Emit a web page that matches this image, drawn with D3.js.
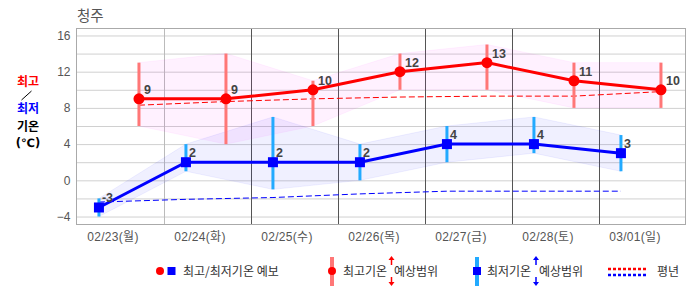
<!DOCTYPE html>
<html>
<head>
<meta charset="utf-8">
<script src="https://cdn.jsdelivr.net/npm/d3@7"></script>
<style>
  body { margin: 0; background: #fff; }
  text { font-family: "Liberation Sans", "Noto Sans CJK KR", sans-serif; }
  .kr { font-family: "Noto Sans CJK KR", sans-serif; }
</style>
</head>
<body>
<script>
// ==================== Data ============================
const days = ['02/23(월)', '02/24(화)', '02/25(수)', '02/26(목)', '02/27(금)', '02/28(토)', '03/01(일)'];
const maxTemp = [9, 9, 10, 12, 13, 11, 10];
const maxLow  = [6, 4, 6, 10, 10, 8, 8];
const maxHigh = [13, 14, 11, 14, 15, 13, 13];
const minTemp = [-3, 2, 2, 2, 4, 4, 3];
const minLow  = [-4, 1, -1, 0, 2, 3, 1];
const minHigh = [-2, 4, 7, 4, 6, 7, 5];
const normalMax = [8.3, 8.7, 9.0, 9.2, 9.3, 9.3, 9.8];
const normalMin = [-2.4, -2.1, -1.9, -1.5, -1.2, -1.2, -1.2];
const yTicks = [-4, 0, 4, 8, 12, 16];
const yGrid = [-4, -2, 0, 2, 4, 6, 8, 10, 12, 14, 16];

// ==================== Set up ============================
const W = 686, H = 295;
const plotL = 76.5, plotR = 685.5, plotT = 28.5, plotB = 224.5;

const x = d3.scaleBand().domain(days).range([plotL, plotR]);
const y = d3.scaleLinear().domain([-4.88, 16.77]).range([plotB, plotT]);

// position inside each day column: min temp early, max temp later
const xMax = (i) => x(days[i]) + x.step() * 0.718;
const xMin = (i) => x(days[i]) + x.step() * 0.258;

const svg = d3.select('body').append('svg')
    .attr('width', W)
    .attr('height', H);

// Title
svg.append('text')
    .attr('class', 'kr')
    .attr('x', 77).attr('y', 21)
    .style('font-size', '14.5px')
    .style('fill', '#555')
    .text('청주');

// Horizontal gridlines
svg.append('g')
    .attr('transform', `translate(${plotL},0)`)
    .call(d3.axisLeft(y).tickValues(yGrid).tickSize(-(plotR - plotL)).tickFormat(''))
    .call(g => g.select('.domain').remove())
    .selectAll('line')
      .attr('stroke', '#d0d0d0');

// Vertical gridlines (column separators)
svg.append('g')
    .selectAll('line')
    .data(days.slice(1))
    .enter()
  .append('line')
    .attr('x1', d => Math.round(x(d)) + 0.5)
    .attr('x2', d => Math.round(x(d)) + 0.5)
    .attr('y1', plotT).attr('y2', plotB)
    .attr('stroke', (d, i) => i === 0 ? '#bbb' : '#555');

// Plot border
svg.append('rect')
    .attr('x', plotL).attr('y', plotT)
    .attr('width', plotR - plotL).attr('height', plotB - plotT)
    .attr('fill', 'none')
    .attr('stroke', '#aaa');

// Y axis labels
svg.append('g')
    .attr('transform', `translate(${plotL},0)`)
    .call(d3.axisLeft(y).tickValues(yTicks).tickSize(0).tickPadding(6))
    .call(g => g.select('.domain').remove())
    .selectAll('text')
      .style('font-size', '12px')
      .style('fill', '#555');

// X axis labels
svg.append('g')
    .attr('transform', `translate(0,${plotB})`)
    .call(d3.axisBottom(x).tickSize(0).tickPadding(8))
    .call(g => g.select('.domain').remove())
    .selectAll('text')
      .attr('dx', -7)
      .style('font-size', '12px')
      .style('letter-spacing', '0.3px')
      .style('fill', '#555');

// Left axis title
const ttl = svg.append('g').style('font-size', '12px').style('font-weight', 'bold').attr('text-anchor', 'middle');
ttl.append('text').attr('class', 'kr').attr('x', 28).attr('y', 86).style('fill', '#ff0000').text('최고');
ttl.append('line').attr('x1', 21.5).attr('y1', 100).attr('x2', 31.5).attr('y2', 91).attr('stroke', '#000');
ttl.append('text').attr('class', 'kr').attr('x', 28).attr('y', 112.5).style('fill', '#0000ff').text('최저');
ttl.append('text').attr('class', 'kr').attr('x', 28).attr('y', 130.5).style('fill', '#000').text('기온');
ttl.append('text').attr('x', 28).attr('y', 147).style('fill', '#000')
    .style('font-family', '"DejaVu Sans", sans-serif').style('font-size', '11.5px').text('(℃)');

// ==================== Bands ============================
const idx = d3.range(days.length);

svg.append('path')
    .datum(idx)
    .attr('fill', '#ff00ff').attr('fill-opacity', 0.055)
    .attr('stroke', '#ff00ff').attr('stroke-opacity', 0.05)
    .attr('d', d3.area().x(i => xMax(i)).y0(i => y(maxLow[i])).y1(i => y(maxHigh[i])));

svg.append('path')
    .datum(idx)
    .attr('fill', '#0000ff').attr('fill-opacity', 0.06)
    .attr('stroke', '#0000ff').attr('stroke-opacity', 0.06)
    .attr('d', d3.area().x(i => xMin(i)).y0(i => y(minLow[i])).y1(i => y(minHigh[i])));

// Normal lines
svg.append('path')
    .datum(idx)
    .attr('fill', 'none').attr('stroke', '#ff0000').attr('stroke-width', 1)
    .style('stroke-dasharray', '6,3')
    .attr('d', d3.line().x(i => xMax(i)).y(i => y(normalMax[i])));

svg.append('path')
    .datum(idx)
    .attr('fill', 'none').attr('stroke', '#0000ff').attr('stroke-width', 1)
    .style('stroke-dasharray', '6,3')
    .attr('d', d3.line().x(i => xMin(i)).y(i => y(normalMin[i])));

// Range bars
svg.append('g').selectAll('line').data(idx).enter().append('line')
    .attr('x1', i => xMax(i)).attr('x2', i => xMax(i))
    .attr('y1', i => y(maxLow[i])).attr('y2', i => y(maxHigh[i]))
    .attr('stroke', '#ff7777').attr('stroke-width', 3);

svg.append('g').selectAll('line').data(idx).enter().append('line')
    .attr('x1', i => xMin(i)).attr('x2', i => xMin(i))
    .attr('y1', i => y(minLow[i])).attr('y2', i => y(minHigh[i]))
    .attr('stroke', '#22aaff').attr('stroke-width', 3);

// Main lines
svg.append('path')
    .datum(idx)
    .attr('fill', 'none').attr('stroke', '#ff0000').attr('stroke-width', 3)
    .attr('d', d3.line().x(i => xMax(i)).y(i => y(maxTemp[i])));

svg.append('path')
    .datum(idx)
    .attr('fill', 'none').attr('stroke', '#0000ff').attr('stroke-width', 3)
    .attr('d', d3.line().x(i => xMin(i)).y(i => y(minTemp[i])));

// Points
svg.append('g').selectAll('circle').data(idx).enter().append('circle')
    .attr('cx', i => xMax(i)).attr('cy', i => y(maxTemp[i]))
    .attr('r', 5.5).attr('fill', '#ff0000');

svg.append('g').selectAll('rect').data(idx).enter().append('rect')
    .attr('x', i => xMin(i) - 5).attr('y', i => y(minTemp[i]) - 5)
    .attr('width', 10).attr('height', 10).attr('fill', '#0000ff');

// Value labels
svg.append('g').selectAll('text').data(idx).enter().append('text')
    .attr('x', i => xMax(i) + 5).attr('y', i => y(maxTemp[i]) - 5)
    .style('font-size', '12.5px').style('font-weight', 'bold').style('fill', '#444')
    .text(i => maxTemp[i]);

svg.append('g').selectAll('text').data(idx).enter().append('text')
    .attr('x', i => xMin(i) + 3).attr('y', i => y(minTemp[i]) - 5)
    .style('font-size', '12.5px').style('font-weight', 'bold').style('fill', '#444')
    .text(i => minTemp[i]);

// ==================== Legend ============================
const lg = svg.append('g').style('font-size', '12px').style('fill', '#333');
const ly = 271;

const arrow = (cx, color) => {
  lg.append('line').attr('x1', cx).attr('x2', cx).attr('y1', ly - 6).attr('y2', ly - 12).attr('stroke', color).attr('stroke-width', 1.5);
  lg.append('path').attr('d', `M${cx - 3},${ly - 11}L${cx},${ly - 15}L${cx + 3},${ly - 11}Z`).attr('fill', color);
  lg.append('line').attr('x1', cx).attr('x2', cx).attr('y1', ly + 6).attr('y2', ly + 12).attr('stroke', color).attr('stroke-width', 1.5);
  lg.append('path').attr('d', `M${cx - 3},${ly + 11}L${cx},${ly + 15}L${cx + 3},${ly + 11}Z`).attr('fill', color);
};

lg.append('circle').attr('cx', 160).attr('cy', ly).attr('r', 4).attr('fill', '#ff0000');
lg.append('rect').attr('x', 167.5).attr('y', ly - 4).attr('width', 8).attr('height', 8).attr('fill', '#0000ff');
lg.append('text').attr('class', 'kr').attr('x', 183).attr('y', ly + 5).text('최고/최저기온 예보');

lg.append('line').attr('x1', 332).attr('x2', 332).attr('y1', ly - 14).attr('y2', ly + 15).attr('stroke', '#ff7777').attr('stroke-width', 4);
lg.append('circle').attr('cx', 332).attr('cy', ly).attr('r', 4).attr('fill', '#ff0000');
lg.append('text').attr('class', 'kr').attr('x', 343).attr('y', ly + 5).text('최고기온');
lg.append('text').attr('class', 'kr').attr('x', 394).attr('y', ly + 5).text('예상범위');
arrow(391.5, '#ff0000');

lg.append('line').attr('x1', 477).attr('x2', 477).attr('y1', ly - 14).attr('y2', ly + 15).attr('stroke', '#22aaff').attr('stroke-width', 4);
lg.append('rect').attr('x', 473).attr('y', ly - 4).attr('width', 8).attr('height', 8).attr('fill', '#0000ff');
lg.append('text').attr('class', 'kr').attr('x', 487).attr('y', ly + 5).text('최저기온');
lg.append('text').attr('class', 'kr').attr('x', 539).attr('y', ly + 5).text('예상범위');
arrow(536, '#0000ff');

lg.append('line').attr('x1', 608).attr('x2', 647).attr('y1', ly - 2).attr('y2', ly - 2)
    .attr('stroke', '#ff0000').attr('stroke-width', 2.5).style('stroke-dasharray', '3,2');
lg.append('line').attr('x1', 608).attr('x2', 647).attr('y1', ly + 4).attr('y2', ly + 4)
    .attr('stroke', '#0000ff').attr('stroke-width', 2.5).style('stroke-dasharray', '3,2');
lg.append('text').attr('class', 'kr').attr('x', 657).attr('y', ly + 5).text('평년');
</script>
</body>
</html>
